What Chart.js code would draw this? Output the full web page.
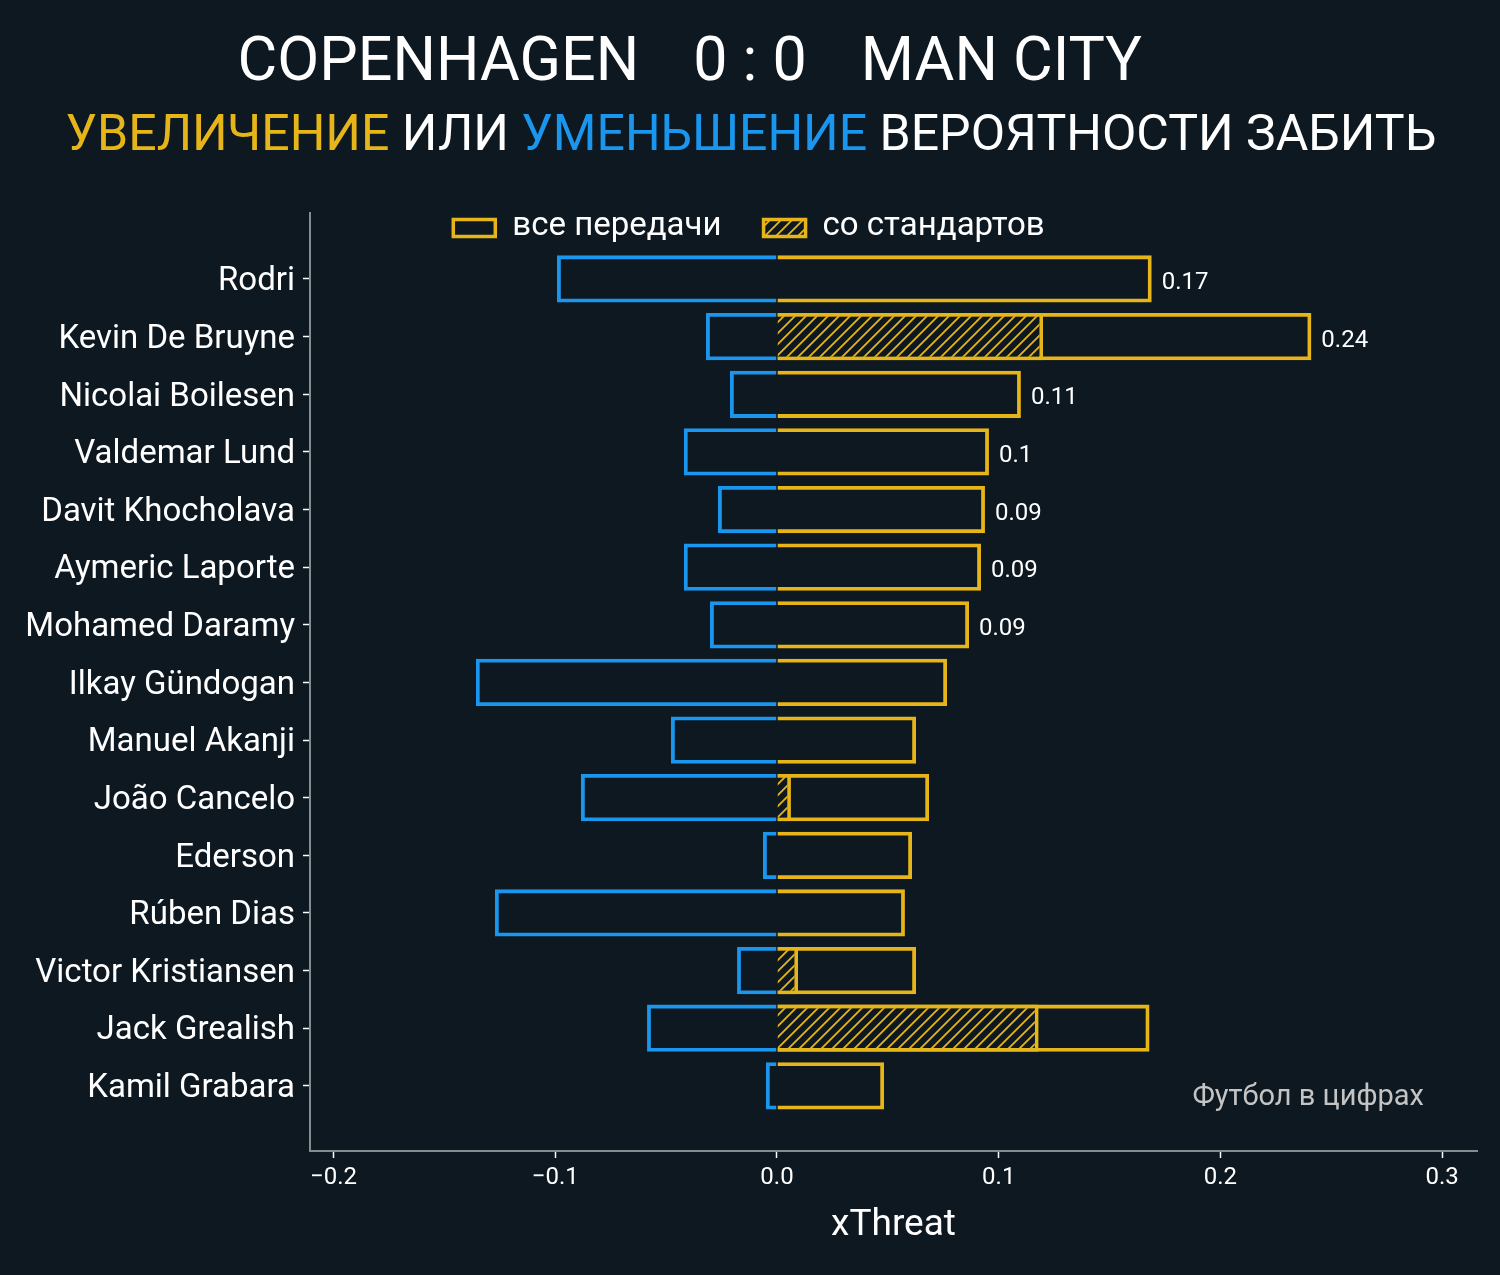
<!DOCTYPE html>
<html>
<head>
<meta charset="utf-8">
<script src="https://cdn.jsdelivr.net/npm/chart.js@4.4.1/dist/chart.umd.min.js"></script>
<style>
  html, body { margin: 0; padding: 0; background: #0e1821; }
  #wrap { width: 1500px; height: 1275px; position: relative; }
</style>
</head>
<body>
<div id="wrap"><canvas id="xtChart"></canvas></div>
<script>
// players, top to bottom
const players = ['Rodri', 'Kevin De Bruyne', 'Nicolai Boilesen', 'Valdemar Lund', 'Davit Khocholava',
    'Aymeric Laporte', 'Mohamed Daramy', 'Ilkay Gündogan', 'Manuel Akanji', 'João Cancelo',
    'Ederson', 'Rúben Dias', 'Victor Kristiansen', 'Jack Grealish', 'Kamil Grabara'];

// xThreat added by all passes
const xtPlus = [0.169, 0.241, 0.110, 0.0956, 0.0938, 0.092, 0.0866, 0.0767, 0.0627, 0.0686,
    0.0609, 0.0577, 0.0627, 0.168, 0.0483];
// xThreat lost
const xtMinus = [-0.0992, -0.032, -0.0212, -0.042, -0.0266, -0.042, -0.0302, -0.1358, -0.0478, -0.0884,
    -0.0063, -0.1272, -0.018, -0.0586, -0.005];
// xThreat added from set pieces
const xtSetPiece = [0, 0.12, 0, 0, 0, 0, 0, 0, 0, 0.0063, 0, 0, 0.0095, 0.118, 0];

const xTicks = [-0.2, -0.1, 0.0, 0.1, 0.2, 0.3];

// only the first rows get a value label
const labelledRows = 7;

const YELLOW = '#e6b519';
const BLUE = '#1b96ee';
const BG = '#0e1821';

function hatchPattern() {
    const size = 11;
    const c = document.createElement('canvas');
    c.width = size; c.height = size;
    const g = c.getContext('2d');
    g.fillStyle = BG;
    g.fillRect(0, 0, size, size);
    g.strokeStyle = YELLOW;
    g.lineWidth = 1.8;
    g.beginPath();
    g.moveTo(-2, size + 2); g.lineTo(size + 2, -2);
    g.moveTo(-2, 2); g.lineTo(2, -2);
    g.moveTo(size - 2, size + 2); g.lineTo(size + 2, size - 2);
    g.stroke();
    return g.createPattern(c, 'repeat');
}

const toPoints = arr => arr.map((v, i) => ({ x: v, y: i }));

const bgPlugin = {
    id: 'bg',
    beforeDraw(chart) {
        const ctx = chart.ctx;
        ctx.save();
        ctx.fillStyle = BG;
        ctx.fillRect(0, 0, chart.width, chart.height);
        ctx.restore();
    }
};

const textPlugin = {
    id: 'texts',
    afterDraw(chart) {
        const ctx = chart.ctx;
        ctx.save();
        ctx.textBaseline = 'middle';

        // title line
        ctx.font = '61px Roboto';
        ctx.fillStyle = '#ffffff';
        const cx = 750, ty = 65, gap = 54;
        const scoreW = ctx.measureText('0 : 0').width;
        ctx.textAlign = 'center';
        ctx.fillText('0 : 0', cx, ty);
        ctx.textAlign = 'right';
        ctx.fillText('COPENHAGEN', cx - scoreW / 2 - gap, ty);
        ctx.textAlign = 'left';
        ctx.fillText('MAN CITY', cx + scoreW / 2 + gap, ty);

        // subtitle with coloured words
        const parts = [['УВЕЛИЧЕНИЕ', YELLOW], [' ИЛИ ', '#ffffff'], ['УМЕНЬШЕНИЕ', BLUE], [' ВЕРОЯТНОСТИ ЗАБИТЬ', '#ffffff']];
        ctx.font = '50px Roboto';
        const total = parts.reduce((s, p) => s + ctx.measureText(p[0]).width, 0);
        let x = 751 - total / 2;
        ctx.textAlign = 'left';
        parts.forEach(p => {
            ctx.fillStyle = p[1];
            ctx.fillText(p[0], x, 137);
            x += ctx.measureText(p[0]).width;
        });

        // legend
        ctx.font = '33px Roboto';
        const items = [chart.data.datasets[0], chart.data.datasets[2]];
        const boxW = 42, boxH = 17, pad = 17, itemGap = 42;
        const widths = items.map(d => boxW + pad + ctx.measureText(d.label).width);
        let lx = 749 - (widths[0] + widths[1] + itemGap) / 2;
        const ly = 228;
        items.forEach((d, i) => {
            ctx.fillStyle = d.backgroundColor;
            ctx.fillRect(lx, ly - boxH / 2, boxW, boxH);
            ctx.strokeStyle = YELLOW;
            ctx.lineWidth = 3.5;
            ctx.strokeRect(lx, ly - boxH / 2, boxW, boxH);
            ctx.fillStyle = '#ffffff';
            ctx.fillText(d.label, lx + boxW + pad, ly - 1);
            lx += widths[i] + itemGap;
        });

        // watermark
        ctx.font = '29px Roboto';
        ctx.fillStyle = '#c4c4c4';
        ctx.textAlign = 'right';
        ctx.fillText('Футбол в цифрах', 1424, 1098);
        ctx.restore();
    },
    afterDatasetsDraw(chart) {
        // value labels next to the totals
        const ctx = chart.ctx;
        const meta = chart.getDatasetMeta(0);
        ctx.save();
        ctx.font = '24px Roboto';
        ctx.fillStyle = '#ffffff';
        ctx.textAlign = 'left';
        ctx.textBaseline = 'middle';
        meta.data.forEach((bar, i) => {
            if (i >= labelledRows) return;
            const v = xtPlus[i];
            ctx.fillText(String(Math.round(v * 100) / 100), bar.x + 10, bar.y + 4);
        });
        ctx.restore();
    }
};

new Chart(document.getElementById('xtChart'), {
    type: 'bar',
    data: {
        datasets: [
            {
                label: 'все передачи',
                data: toPoints(xtPlus),
                backgroundColor: 'rgba(0,0,0,0)',
                borderColor: YELLOW,
                borderWidth: 3.8,
                grouped: false,
                order: 2
            },
            {
                label: 'потери',
                data: toPoints(xtMinus),
                backgroundColor: 'rgba(0,0,0,0)',
                borderColor: BLUE,
                borderWidth: 3.8,
                grouped: false,
                order: 3
            },
            {
                label: 'со стандартов',
                data: toPoints(xtSetPiece),
                backgroundColor: hatchPattern(),
                borderColor: YELLOW,
                borderWidth: 3.8,
                grouped: false,
                order: 1
            }
        ]
    },
    options: {
        indexAxis: 'y',
        responsive: true,
        maintainAspectRatio: false,
        devicePixelRatio: 1,
        animation: false,
        layout: { padding: { top: 213, right: 23, left: 0, bottom: 0 } },
        datasets: { bar: { barPercentage: 1, categoryPercentage: 0.82 } },
        plugins: {
            legend: { display: false },
            tooltip: { enabled: false }
        },
        scales: {
            x: {
                type: 'linear',
                min: -0.2106,
                max: 0.3157,
                afterBuildTicks: scale => { scale.ticks = xTicks.map(v => ({ value: v })); },
                ticks: {
                    color: '#ffffff',
                    font: { family: 'Roboto', size: 24 },
                    padding: 6,
                    callback: v => (v < 0 ? '\u2212' : '') + Math.abs(v).toFixed(1)
                },
                grid: { drawOnChartArea: false, tickLength: 7, tickColor: '#ffffff', tickWidth: 1.5 },
                border: { color: '#7f8f8f', width: 2 },
                title: {
                    display: true,
                    text: 'xThreat',
                    color: '#ffffff',
                    font: { family: 'Roboto', size: 37 },
                    padding: { top: 0, bottom: 27 }
                },
                afterFit: scale => { scale.height = 1275 - 1151; }
            },
            y: {
                type: 'linear',
                reverse: true,
                offset: false,
                min: -1.145,
                max: 15.13,
                afterBuildTicks: scale => { scale.ticks = players.map((p, i) => ({ value: i })); },
                ticks: {
                    color: '#ffffff',
                    font: { family: 'Roboto', size: 33 },
                    padding: 8,
                    labelOffset: 3,
                    autoSkip: false,
                    callback: v => players[v]
                },
                grid: { offset: false, drawOnChartArea: false, tickLength: 7, tickColor: '#ffffff', tickWidth: 1.5 },
                border: { color: '#7f8f8f', width: 2 },
                afterFit: scale => { scale.width = 310; }
            }
        }
    },
    plugins: [bgPlugin, textPlugin]
});
</script>
</body>
</html>
